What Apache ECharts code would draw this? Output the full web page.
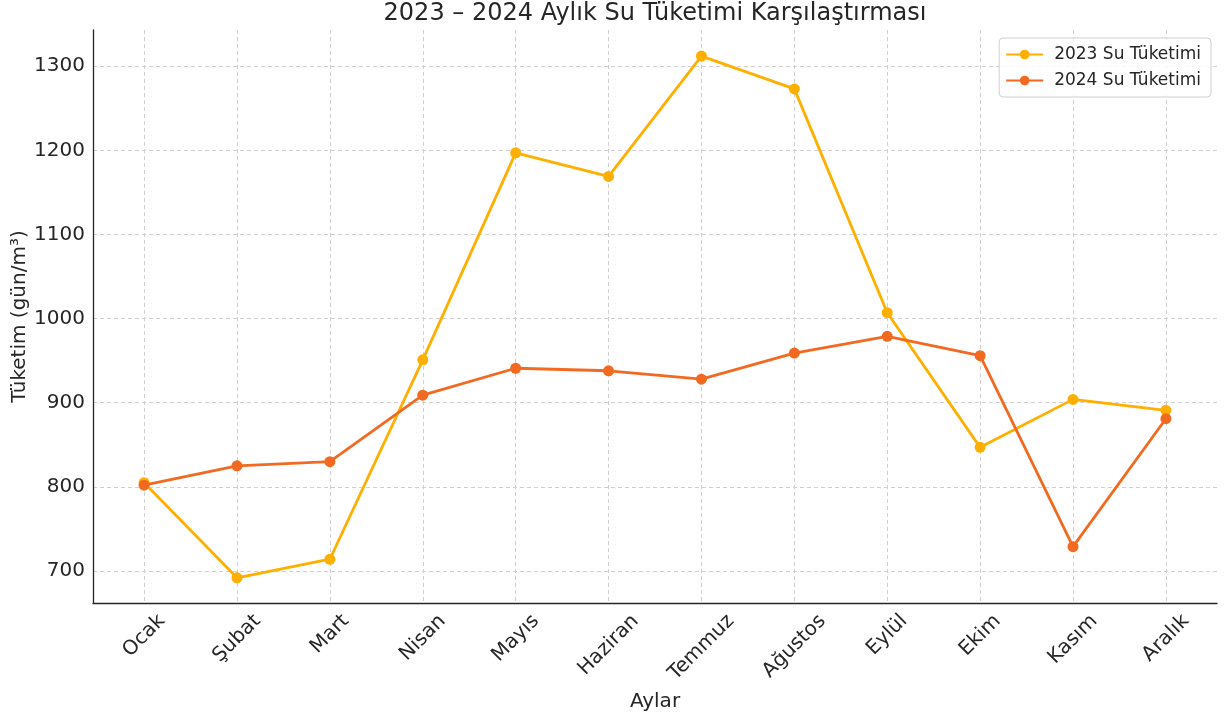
<!DOCTYPE html>
<html>
<head>
<meta charset="utf-8">
<script src="https://cdn.jsdelivr.net/npm/echarts@6/dist/echarts.min.js"></script>
<style>html,body{margin:0;padding:0;background:#fff}#c{width:1225px;height:719px}</style>
</head>
<body>
<div id="c"></div>
<script>
const months = ['Ocak','Şubat','Mart','Nisan','Mayıs','Haziran','Temmuz','Ağustos','Eylül','Ekim','Kasım','Aralık'];
const water2023 = [805, 692, 714, 951, 1197, 1169, 1312, 1273, 1007, 847, 904, 891];
const water2024 = [802, 825, 830, 909, 941, 938, 928, 959, 979, 956, 729, 881];
const yTicks = [700, 800, 900, 1000, 1100, 1200, 1300];
const seriesNames = ['2023 Su Tüketimi', '2024 Su Tüketimi'];

const FONT = 'DejaVu Sans';
const LABEL_SIZE = 20;
const TEXT = '#262626';
const idx = months.map((m, i) => i);

// measure label widths to mimic centre-aligned rotated labels
const ctx = document.createElement('canvas').getContext('2d');
ctx.font = LABEL_SIZE + 'px "' + FONT + '"';
const rich = {};
months.forEach((m, i) => {
  const w = ctx.measureText(m).width;
  rich['l' + i] = { fontFamily: FONT, fontSize: LABEL_SIZE, color: TEXT, padding: [w * 0.5, w * 0.5, 0, 0] };
});

const chart = echarts.init(document.getElementById('c'), null, { renderer: 'canvas' });
chart.setOption({
  animation: false,
  backgroundColor: '#fff',
  textStyle: { fontFamily: FONT },
  title: {
    text: '2023 – 2024 Aylık Su Tüketimi Karşılaştırması',
    left: 655, textAlign: 'center', top: 2, padding: 0,
    textStyle: { fontFamily: FONT, fontSize: 24, fontWeight: 'normal', color: TEXT }
  },
  legend: {
    orient: 'vertical', right: 14, top: 38,
    padding: [8, 10, 8, 6],
    itemWidth: 37, itemHeight: 12, itemGap: 9,
    backgroundColor: 'rgba(255,255,255,0.85)',
    borderColor: '#cfcfcf', borderWidth: 1, borderRadius: 4,
    textStyle: { fontFamily: FONT, fontSize: 17, color: TEXT, padding: [0, 0, 0, 6] },
    data: seriesNames
  },
  grid: { left: 93, right: 8, top: 30, bottom: 116, containLabel: false, outerBoundsMode: 'none' },
  xAxis: {
    type: 'value', min: -0.55, max: 11.55,
    name: 'Aylar', nameLocation: 'middle', nameGap: 89, nameMoveOverlap: false,
    nameTextStyle: { fontFamily: FONT, fontSize: 20, color: TEXT },
    axisLine: { show: true, onZero: false, lineStyle: { color: TEXT, width: 1.3 } },
    axisTick: { show: false, customValues: idx },
    axisLabel: {
      customValues: idx, rotate: 45, align: 'center', verticalAlign: 'middle', margin: 15,
      hideOverlap: false,
      formatter: v => '{l' + Math.round(v) + '|' + months[Math.round(v)] + '}',
      rich: rich
    },
    splitLine: { show: true, lineStyle: { color: '#d0d0d0', type: [4, 3], width: 1 } }
  },
  yAxis: {
    type: 'value', min: 662, max: 1343,
    name: 'Tüketim (gün/m³)', nameLocation: 'middle', nameGap: 63, nameMoveOverlap: false,
    nameTextStyle: { fontFamily: FONT, fontSize: 20, color: TEXT },
    axisLine: { show: true, onZero: false, lineStyle: { color: TEXT, width: 1.3 } },
    axisTick: { show: false, customValues: yTicks },
    axisLabel: { customValues: yTicks, margin: 8, fontFamily: FONT, fontSize: 20, color: TEXT, formatter: v => String(v) },
    splitLine: { show: true, lineStyle: { color: '#d0d0d0', type: [4, 3], width: 1 } }
  },
  series: [
    {
      name: seriesNames[0], type: 'line',
      data: water2023.map((v, i) => [i, v]),
      symbol: 'circle', symbolSize: 11,
      itemStyle: { color: '#FFAF00' },
      lineStyle: { color: '#FFAF00', width: 2.8 },
      z: 2
    },
    {
      name: seriesNames[1], type: 'line',
      data: water2024.map((v, i) => [i, v]),
      symbol: 'circle', symbolSize: 11,
      itemStyle: { color: '#F26A22' },
      lineStyle: { color: '#F26A22', width: 2.8 },
      z: 3
    }
  ]
});
</script>
</body>
</html>
